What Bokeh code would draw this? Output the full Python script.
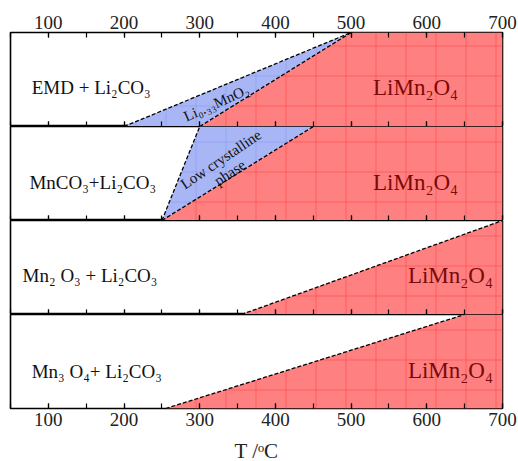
from bokeh.plotting import figure
from bokeh.layouts import column
from bokeh.models import SingleIntervalTicker, LinearAxis, Range1d
from bokeh.core.properties import value
from bokeh.embed import file_html
from bokeh.resources import INLINE

T_MIN, T_MAX = 50, 700
reactants = ["EMD + Li\u2082CO\u2083", "MnCO\u2083+Li\u2082CO\u2083",
             "Mn\u2082 O\u2083  + Li\u2082CO\u2083", "Mn\u2083 O\u2084+ Li\u2082CO\u2083"]
product = "LiMn\u2082O\u2084"
# LiMn2O4 boundary: temperature at bottom and at top of each band
spinel_start = [300, 250, 355, 255]
spinel_full = [500, 450, 700, 650]
# intermediate phase boundary
inter_start = [200, 250, None, None]
inter_full = [500, 300, None, None]
inter_labels = ["Li\u2080.\u2083\u2083MnO\u2082", "Low crystalline\nphase", None, None]
inter_lx = [322, 334, None, None]
inter_ly = [0.25, 0.58, None, None]
inter_angle = [24, 34, None, None]
reactant_x = [78, 75, 66, 78]
reactant_y = [0.41, 0.40, 0.42, 0.39]
product_x = [529, 529, 575, 575]
product_y = [0.41, 0.40, 0.42, 0.40]
tick_values = list(range(100, 701, 100))

FONT = "Liberation Serif"
RED = "#ff8080"
BLUE = "#a8b6f6"

figs = []
n = len(reactants)
for i in range(n):
    top = i == 0
    bottom = i == n - 1
    p = figure(frame_width=492, frame_height=94,
               x_range=Range1d(T_MIN, T_MAX), y_range=Range1d(0, 1),
               output_backend="svg", toolbar_location=None,
               x_axis_location=None, y_axis_location=None,
               min_border_left=10, min_border_right=16,
               min_border_top=32 if top else 0,
               min_border_bottom=0)
    p.xgrid.visible = False
    p.ygrid.visible = False
    p.outline_line_color = "black"
    p.outline_line_width = 1.6
    p.background_fill_color = "white"

    axes = []
    ax_b = LinearAxis(ticker=SingleIntervalTicker(interval=100, num_minor_ticks=2))
    p.add_layout(ax_b, "below")
    axes.append((ax_b, bottom))
    if top:
        ax_t = LinearAxis(ticker=SingleIntervalTicker(interval=100, num_minor_ticks=2))
        p.add_layout(ax_t, "above")
        axes.append((ax_t, True))
    for ax, labeled in axes:
        ax.axis_line_color = None
        ax.major_tick_in = 5
        ax.major_tick_out = 0
        ax.minor_tick_in = 5
        ax.minor_tick_out = 0
        ax.major_tick_line_color = "black"
        ax.minor_tick_line_color = "black"
        ax.major_tick_line_width = 1.2
        ax.minor_tick_line_width = 1.2
        if labeled:
            ax.major_label_text_font = FONT
            ax.major_label_text_font_size = "19px"
            ax.major_label_text_color = "#222222"
            ax.major_label_standoff = 4
        else:
            ax.major_label_overrides = {t: "" for t in tick_values}
            ax.major_label_text_font_size = "1px"
            ax.major_label_standoff = 0
    if bottom:
        ax_b.axis_label = "T /\u1d52C"
        ax_b.axis_label_text_font = FONT
        ax_b.axis_label_text_font_size = "21px"
        ax_b.axis_label_text_font_style = "normal"
        ax_b.axis_label_text_color = "#222222"
        ax_b.axis_label_standoff = 10

    # LiMn2O4 region
    p.patch([spinel_start[i], spinel_full[i], T_MAX, T_MAX], [0, 1, 1, 0],
            fill_color=RED, line_color=None,
            hatch_pattern="cross", hatch_scale=30, hatch_color="#ff3a3a",
            hatch_alpha=0.5, hatch_weight=1)
    # intermediate region
    if inter_start[i] is not None:
        p.patch([inter_start[i], inter_full[i], spinel_full[i], spinel_start[i]],
                [0, 1, 1, 0], fill_color=BLUE, line_color=None,
                hatch_pattern="cross", hatch_scale=30, hatch_color="#7f93f0",
                hatch_alpha=0.45, hatch_weight=1)
        p.line([inter_start[i], inter_full[i]], [0, 1], line_color="black",
               line_dash="4 2", line_width=1.3)
        p.text(x=[inter_lx[i]], y=[inter_ly[i]], text=[inter_labels[i]],
               angle=inter_angle[i], angle_units="deg",
               text_font=value(FONT), text_font_size="15px",
               text_align="center", text_baseline="middle",
               text_color="#111111", text_line_height=1.0)
    p.line([spinel_start[i], spinel_full[i]], [0, 1], line_color="black",
           line_dash="4 2", line_width=1.3)

    p.text(x=[reactant_x[i]], y=[reactant_y[i]], text=[reactants[i]],
           text_font=value(FONT), text_font_size="19px",
           text_align="left", text_baseline="middle", text_color="#111111")
    p.text(x=[product_x[i]], y=[product_y[i]], text=[product],
           text_font=value(FONT), text_font_size="23px",
           text_align="left", text_baseline="middle", text_color="#7a0a0a")
    figs.append(p)

layout = column(*figs, spacing=0)
open("out.html", "w").write(file_html(layout, INLINE))
